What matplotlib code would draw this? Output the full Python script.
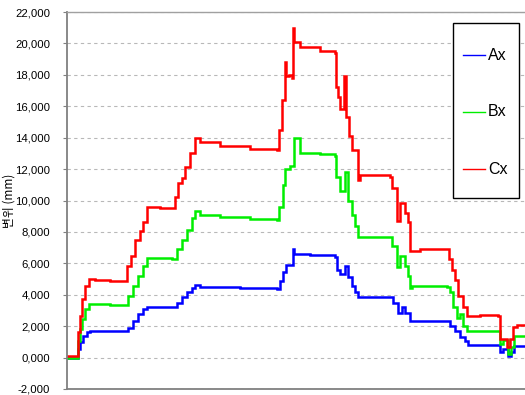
import matplotlib
matplotlib.use("Agg")
import matplotlib.pyplot as plt
from matplotlib.patches import Rectangle

# ---- data (time axis in arbitrary units) ----
ax_t = [0, 11, 13, 16, 20, 23, 56, 61, 66, 71, 76, 80, 105, 110, 115, 120, 125, 128, 133, 173, 210,
        213, 216, 219, 225, 226, 227, 243, 268, 270, 273, 278, 281, 285, 288, 291, 323, 326, 331, 335,
        338, 343, 380, 383, 388, 393, 398, 401, 431, 433, 436, 441, 444, 447, 458]
ax_v = [0, 550, 980, 1370, 1600, 1700, 1700, 1900, 2300, 2750, 3100, 3250, 3250, 3500, 3850, 4150, 4450,
        4600, 4500, 4400, 4350, 4850, 5450, 5900, 5900, 6900, 6600, 6500, 6400, 5600, 5300, 5800, 5100,
        4550, 4150, 3850, 3850, 3500, 2850, 3200, 2850, 2300, 2300, 2000, 1700, 1300, 1050, 800, 800,
        350, 540, 100, 350, 730, 730]

bx_t = [0, 11, 13, 15, 18, 22, 43, 56, 61, 66, 71, 76, 80, 105, 110, 115, 120, 125, 128, 133, 153, 183,
        210, 212, 216, 218, 223, 226, 227, 233, 253, 268, 269, 273, 278, 281, 285, 288, 291, 323, 325,
        330, 333, 338, 341, 343, 345, 380, 383, 386, 390, 393, 396, 400, 431, 433, 436, 441, 444, 447,
        458]
bx_v = [0, 1050, 1800, 2450, 3100, 3400, 3350, 3350, 3900, 4550, 5200, 5800, 6350, 6300, 6900, 7500,
        8150, 8900, 9300, 9050, 8950, 8850, 8750, 9600, 11000, 12000, 12200, 12200, 14000, 13000, 12950,
        12850, 11500, 10600, 11800, 10000, 9100, 8350, 7700, 7650, 7100, 5750, 6450, 5800, 5200, 4450,
        4550, 4500, 4150, 3250, 2550, 2800, 2000, 1700, 1700, 860, 1100, 220, 700, 1370, 1350]

cx_t = [0, 11, 13, 15, 18, 22, 28, 43, 56, 60, 64, 68, 73, 76, 80, 93, 105, 108, 111, 115, 118, 123,
        128, 133, 153, 183, 210, 212, 215, 218, 219, 222, 225, 226, 227, 233, 253, 268, 269, 271, 273,
        277, 279, 282, 285, 291, 293, 323, 325, 330, 333, 338, 341, 343, 353, 380, 382, 385, 388, 391,
        396, 400, 413, 431, 433, 437, 440, 443, 446, 450, 458]
cx_v = [100, 1600, 2650, 3700, 4550, 5000, 4950, 4900, 4850, 5800, 6450, 7500, 8050, 8650, 9600, 9550,
        9550, 10250, 11100, 11450, 12150, 13000, 14000, 13700, 13500, 13300, 13200, 14500, 16400, 18800,
        17900, 18000, 17800, 21000, 20100, 19800, 19500, 19400, 17200, 16600, 15800, 17900, 15300,
        14100, 13200, 11300, 11600, 11500, 10800, 8700, 9850, 9200, 8600, 6800, 6900, 6900, 6250, 5600,
        4950, 3900, 3250, 2650, 2700, 2650, 1170, 1200, 670, 1200, 1930, 2100, 2050]

series_names = ["Ax", "Bx", "Cx"]
series_colors = ["#0000ff", "#00ee00", "#ff0000"]

y_ticks = list(range(-2000, 22001, 2000))
y_tick_labels = ["-2,000", "0,000", "2,000", "4,000", "6,000", "8,000", "10,000", "12,000",
                 "14,000", "16,000", "18,000", "20,000", "22,000"]

# ---- figure ----
W, H = 525, 395
fig = plt.figure(figsize=(W / 100, H / 100), dpi=100)
L, R, T, B = 67, 525, 12, 389
ax = fig.add_axes([L / W, 1 - B / H, (R - L) / W, (B - T) / H])

data = [(ax_t, ax_v), (bx_t, bx_v), (cx_t, cx_v)]
for (t, v), c in zip(data, series_colors):
    ax.plot(t, v, color=c, lw=1.8, drawstyle="steps-post", solid_joinstyle="miter")

ax.set_xlim(0, 458)
ax.set_ylim(-2000, 22000)
ax.set_yticks(y_ticks)
ax.set_yticklabels(y_tick_labels, family=["Liberation Sans", "DejaVu Sans"], fontsize=8.2)
ax.set_xticks([])
ax.tick_params(axis="y", length=3, width=0.8, color="#808080", pad=9)
ax.grid(axis="y", color="#b8b8b8", lw=0.8, ls=(0, (3, 3)))
ax.set_axisbelow(True)

for s in ["left", "bottom"]:
    ax.spines[s].set_color("#808080")
    ax.spines[s].set_linewidth(1.3)
ax.spines["top"].set_color("#a0a0a0")
ax.spines["top"].set_linewidth(1.0)
ax.spines["right"].set_visible(False)

ax.set_ylabel("변위 (mm)", family=["Noto Sans CJK KR", "DejaVu Sans"], fontsize=8.5)
ax.yaxis.set_label_coords(-0.112, 0.5)

# ---- legend box (laid out in figure pixels, converted to figure fractions) ----
def fx(px):
    return px / W

def fy(py):
    return 1 - py / H

fig.patches.append(Rectangle((fx(453), fy(198)), fx(519) - fx(453), fy(23) - fy(198),
                             transform=fig.transFigure, facecolor="white", edgecolor="black",
                             lw=1.0, zorder=5))
for i, (name, c) in enumerate(zip(series_names, series_colors)):
    yy = 55 + 57 * i
    fig.lines.append(plt.Line2D([fx(463), fx(485)], [fy(yy), fy(yy)], transform=fig.transFigure,
                                color=c, lw=1.0, zorder=6))
    fig.text(fx(488), fy(yy), name, ha="left", va="center", fontsize=11.5,
             family=["Liberation Sans", "DejaVu Sans"], zorder=6)

fig.savefig("out.png", dpi=100)
